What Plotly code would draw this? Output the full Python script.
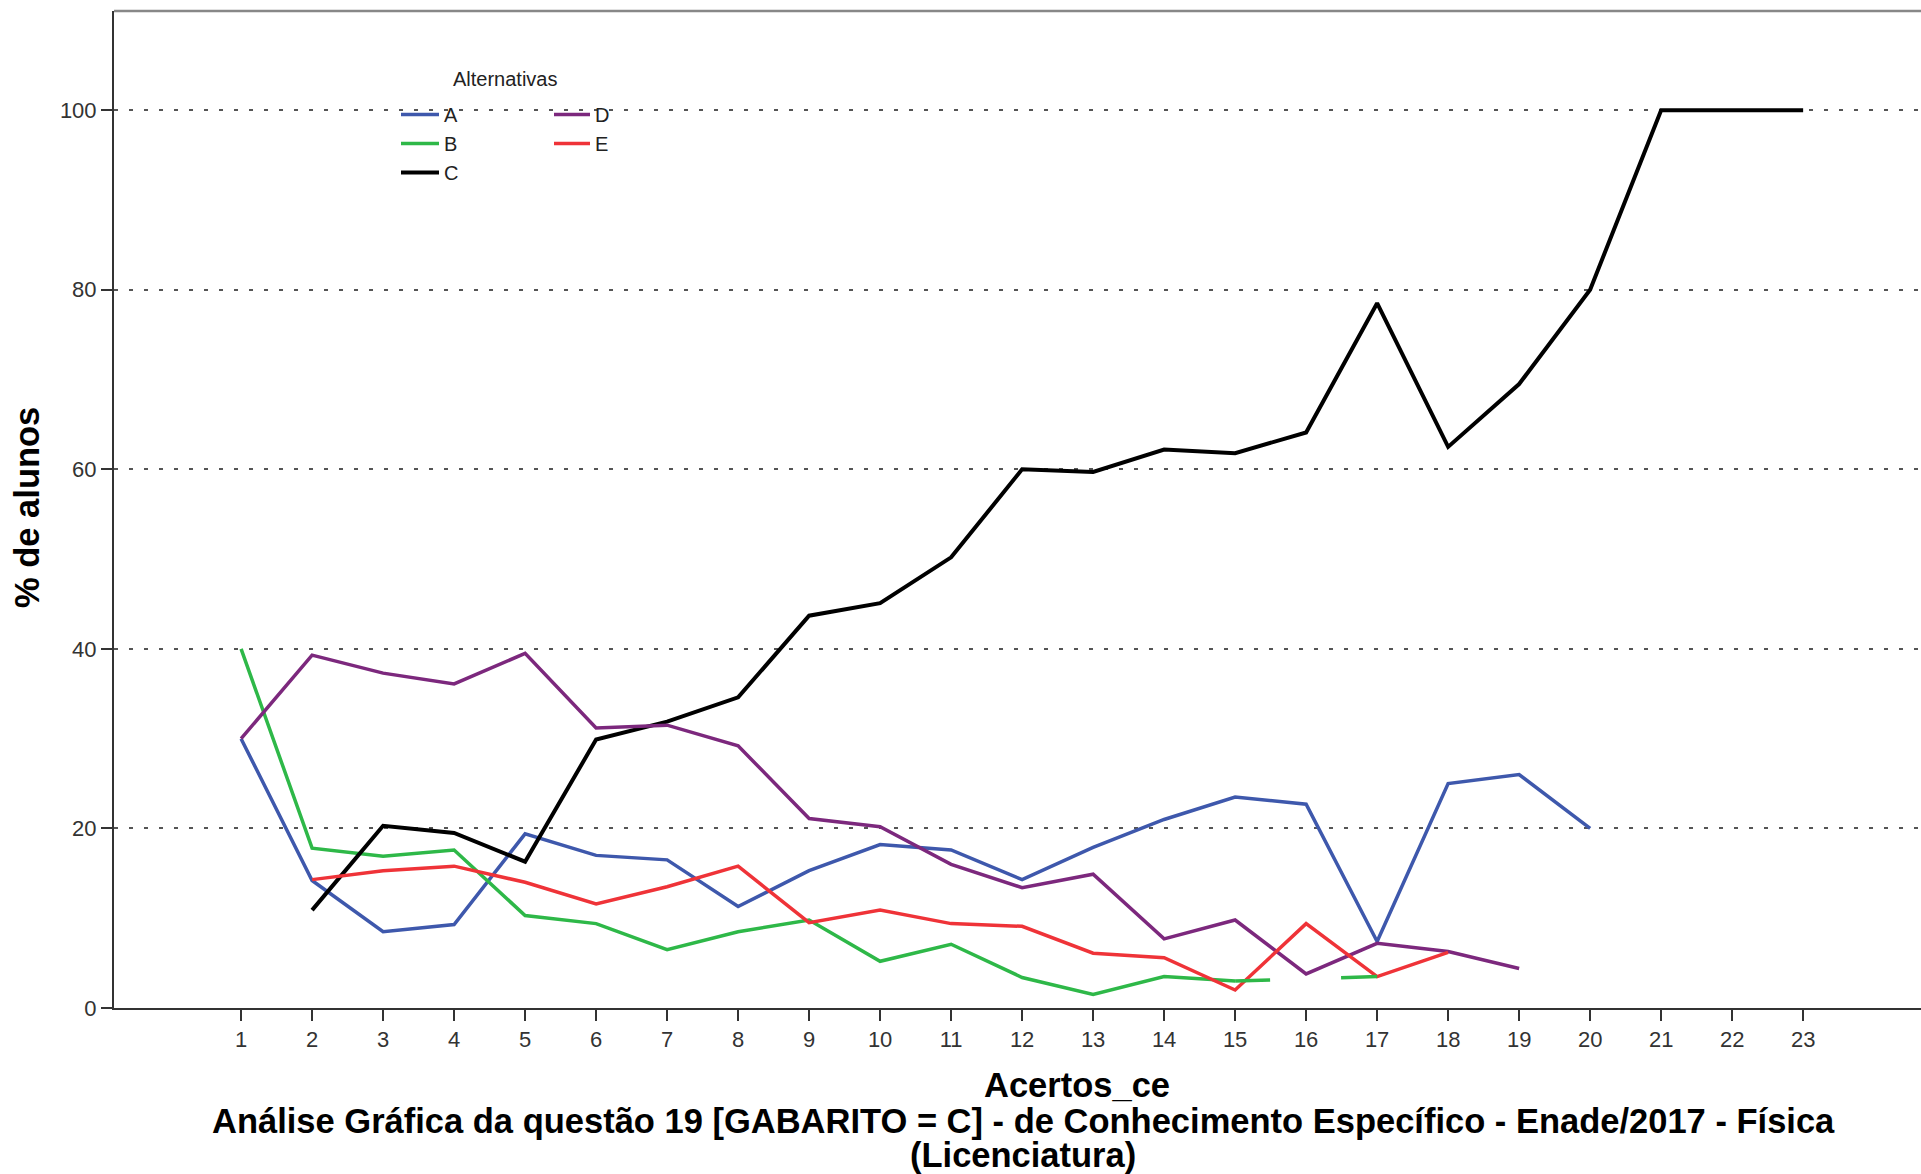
import plotly.graph_objects as go

# Number of correct answers (Acertos_ce) on the x axis
acertos = list(range(1, 24))

# Percentage of students choosing each alternative, per score level
alt_a = [30.0, 14.2, 8.5, 9.3, 19.4, 17.0, 16.5, 11.3, 15.3, 18.2, 17.6, 14.3,
         17.9, 21.0, 23.5, 22.7, 7.4, 25.0, 26.0, 20.0, None, None, None]
alt_b = [40.0, 17.8, 16.9, 17.6, 10.3, 9.4, 6.5, 8.5, 9.8, 5.2, 7.1, 3.4,
         1.5, 3.5, 3.0, None, 3.5, None, None, None, None, None, None]
alt_c = [None, 10.9, 20.3, 19.5, 16.3, 29.9, 31.9, 34.6, 43.7, 45.1, 50.2, 60.0,
         59.7, 62.2, 61.8, 64.1, 78.5, 62.5, 69.5, 80.0, 100.0, 100.0, 100.0]
alt_d = [30.0, 39.3, 37.3, 36.1, 39.5, 31.2, 31.5, 29.2, 21.1, 20.2, 16.0, 13.4,
         14.9, 7.7, 9.8, 3.8, 7.2, 6.3, 4.4, None, None, None, None]
alt_e = [None, 14.3, 15.3, 15.8, 14.0, 11.6, 13.5, 15.8, 9.5, 10.9, 9.4, 9.1,
         6.1, 5.6, 2.0, 9.4, 3.5, 6.2, None, None, None, None, None]

y_ticks = [0, 20, 40, 60, 80, 100]

series = [
    ("A", alt_a, "#3E58AC", "legend"),
    ("B", alt_b, "#2EB848", "legend"),
    ("C", alt_c, "#000000", "legend"),
    ("D", alt_d, "#7C287D", "legend2"),
    ("E", alt_e, "#EF3338", "legend2"),
]

fig = go.Figure()
for name, vals, color, leg in series:
    fig.add_trace(go.Scatter(
        x=acertos, y=vals, mode="lines", name=name, legend=leg,
        legendgroup=name, connectgaps=False,
        line=dict(color=color, width=4 if name == "C" else 3.5),
    ))

# Interrupted bridge across the missing B value: stubs leaving each neighbour
for i, v in enumerate(alt_b):
    if v is None and 0 < i < len(alt_b) - 1 and alt_b[i - 1] is not None and alt_b[i + 1] is not None:
        fig.add_trace(go.Scatter(
            x=[acertos[i - 1], acertos[i + 1]], y=[alt_b[i - 1], alt_b[i + 1]],
            mode="lines", legendgroup="B", showlegend=False,
            line=dict(color="#2EB848", width=3.5, dash="35px,71px,40px"),
        ))

W, H = 1921, 1174
L, R, T, B = 114, 0, 11, 166
pw, ph = W - L - R, H - T - B

def px(xp):
    return (xp - L) / pw

def py(yp):
    return (H - B - yp) / ph

title_font = dict(family="Liberation Sans, Arial, sans-serif", size=34.5, color="#000000")
legend_font = dict(family="Liberation Sans, Arial, sans-serif", size=20, color="#222222")

def note(text, x, y, font, angle=0):
    return dict(text=text, x=px(x), y=py(y), xref="paper", yref="paper",
                xanchor="center", yanchor="middle", showarrow=False,
                textangle=angle, font=font)

fig.update_layout(
    width=W, height=H,
    margin=dict(l=L, r=R, t=T, b=B, pad=0),
    paper_bgcolor="white", plot_bgcolor="white",
    font=dict(family="Liberation Sans, Arial, sans-serif", size=22, color="#333333"),
    showlegend=True,
    legend=dict(x=px(396), y=py(95), xanchor="left", yanchor="top",
                bgcolor="rgba(0,0,0,0)", font=legend_font,
                tracegroupgap=0, itemwidth=38),
    legend2=dict(x=px(549), y=py(95), xanchor="left", yanchor="top",
                 bgcolor="rgba(0,0,0,0)", font=legend_font,
                 tracegroupgap=0, itemwidth=36),
    xaxis=dict(
        range=[-0.79, 24.66], tickmode="array", tickvals=acertos,
        ticktext=[str(v) for v in acertos],
        showgrid=False, zeroline=False,
        showline=True, linecolor="#333333", linewidth=2,
        ticks="outside", ticklen=11, tickwidth=2, tickcolor="#333333",
        tickfont=dict(size=22, color="#333333"),
    ),
    yaxis=dict(
        range=[0, 111.05], tickmode="array", tickvals=y_ticks,
        showgrid=True, gridcolor="#555555", gridwidth=1.5, griddash="4px,11px",
        zeroline=False,
        showline=True, linecolor="#333333", linewidth=2,
        ticks="outside", ticklen=11, tickwidth=2, tickcolor="#333333",
        tickfont=dict(size=22, color="#333333"),
    ),
    shapes=[dict(type="line", xref="paper", yref="paper", x0=0, x1=1, y0=1, y1=1,
                 line=dict(color="#888888", width=2.5))],
    annotations=[
        note("Alternativas", 505, 79, legend_font),
        note("<b>Acertos_ce</b>", 1077, 1085, title_font),
        note("<b>Análise Gráfica da questão 19 [GABARITO = C] - de Conhecimento Específico - Enade/2017 - Física</b>",
             1023, 1121, title_font),
        note("<b>(Licenciatura)</b>", 1023, 1155, title_font),
        note("<b>% de alunos</b>", 27, 508, title_font, angle=-90),
    ],
)

fig.write_html("out.html")
